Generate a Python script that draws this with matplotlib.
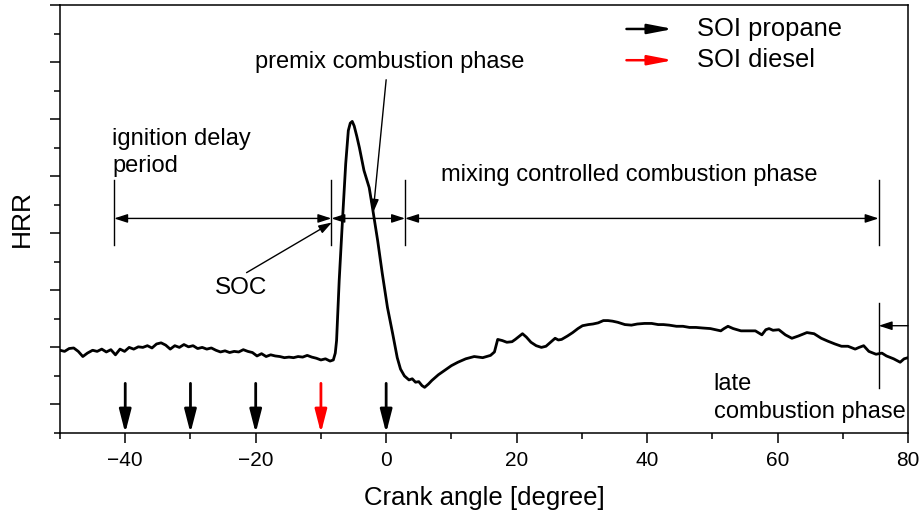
import matplotlib
matplotlib.use("Agg")
import matplotlib.pyplot as plt
from matplotlib.ticker import MultipleLocator, NullFormatter

plt.rcParams['font.family'] = ['Liberation Sans', 'DejaVu Sans']

# Heat release rate trace (arbitrary units) vs crank angle
crank_angle = [
    -50.0, -49.3, -48.6, -47.9, -47.2, -46.5, -45.8, -45.0, -44.3, -43.6,
    -42.9, -42.2, -41.5, -40.8, -40.1, -39.4, -38.7, -38.0, -37.3, -36.6,
    -35.9, -35.2, -34.5, -33.8, -33.1, -32.4, -31.7, -31.0, -30.3, -29.6,
    -28.9, -28.2, -27.5, -26.8, -26.1, -25.4, -24.7, -24.0, -23.3, -22.6,
    -21.9, -21.2, -20.5, -19.8, -19.1, -18.4, -17.7, -17.0, -16.3, -15.6,
    -14.9, -14.2, -13.5, -12.8, -12.1, -11.4, -10.7, -10.0, -9.3, -8.6,
    -8.1, -7.8, -7.6, -7.2, -6.7, -6.2, -5.8, -5.5, -5.2, -4.9,
    -4.5, -4.1, -3.4, -2.6, -2.1, -1.3, -0.6, 0.2, 1.0, 1.7,
    2.2, 2.8, 3.5, 4.0, 4.5, 5.0, 5.5, 5.9, 6.5, 7.0,
    8.0, 9.0, 10.0, 11.0, 12.2, 13.5, 14.8, 16.0, 16.6, 17.1,
    17.8, 18.5, 19.3, 19.8, 20.9, 21.5, 22.2, 23.0, 23.8, 24.5,
    25.3, 25.9, 26.4, 26.9, 27.8, 28.6, 29.4, 30.1, 31.0, 31.7,
    32.5, 33.3, 34.0, 34.7, 35.5, 36.6, 37.6, 38.5, 39.6, 40.7,
    41.7, 42.5, 43.4, 44.5, 45.5, 46.5, 47.5, 48.5, 49.7, 50.5,
    51.3, 51.8, 52.4, 53.2, 54.4, 55.5, 56.6, 57.6, 58.2, 58.7,
    59.3, 60.2, 61.2, 62.2, 63.2, 64.5, 65.6, 66.7, 67.7, 68.8,
    69.8, 70.8, 71.9, 72.5, 73.2, 74.0, 75.1, 76.0, 76.7, 77.8,
    78.8, 79.4, 80.0,
]
hrr = [
    0.95, 0.93, 0.98, 0.99, 0.93, 0.84, 0.90, 0.95, 0.93, 0.97,
    0.92, 0.96, 0.87, 0.97, 0.93, 1.00, 0.97, 1.01, 1.00, 1.03,
    0.99, 1.06, 1.08, 1.04, 0.97, 1.03, 1.00, 1.05, 1.01, 1.03,
    0.98, 1.00, 0.97, 0.99, 0.95, 0.92, 0.94, 0.91, 0.93, 0.92,
    0.96, 0.93, 0.91, 0.85, 0.89, 0.84, 0.87, 0.85, 0.84, 0.82,
    0.83, 0.82, 0.84, 0.83, 0.86, 0.83, 0.81, 0.78, 0.80, 0.76,
    0.78, 0.90, 1.12, 2.17, 3.22, 4.22, 4.80, 4.93, 4.96, 4.88,
    4.70, 4.50, 4.10, 3.80, 3.45, 2.87, 2.30, 1.70, 1.24, 0.82,
    0.62, 0.50, 0.43, 0.45, 0.39, 0.40, 0.33, 0.30, 0.36, 0.42,
    0.52, 0.60, 0.68, 0.74, 0.80, 0.84, 0.82, 0.86, 0.92, 1.14,
    1.12, 1.09, 1.10, 1.14, 1.24, 1.18, 1.09, 1.03, 1.00, 1.02,
    1.10, 1.16, 1.13, 1.14, 1.20, 1.26, 1.33, 1.38, 1.40, 1.41,
    1.43, 1.47, 1.47, 1.46, 1.44, 1.40, 1.39, 1.41, 1.42, 1.42,
    1.40, 1.40, 1.39, 1.37, 1.37, 1.35, 1.35, 1.34, 1.33, 1.31,
    1.29, 1.33, 1.37, 1.33, 1.29, 1.29, 1.29, 1.22, 1.31, 1.33,
    1.30, 1.31, 1.22, 1.16, 1.20, 1.26, 1.24, 1.16, 1.11, 1.06,
    1.02, 1.02, 0.97, 1.00, 1.03, 0.93, 0.88, 0.90, 0.85, 0.80,
    0.74, 0.80, 0.82,
]

# Start-of-injection timings
soi_propane = [-40, -30, -20, 0]
soi_diesel = [-10]

# Phase boundaries (crank angle) and bracket level
soc = -8.4
ignition_start = -41.7
premix_end = 2.9
mixing_end = 75.5
bracket_y = 3.26

x_ticks = [-40, -20, 0, 20, 40, 60, 80]

fig = plt.figure(figsize=(9.22, 5.14), dpi=100)
ax = fig.add_axes([60 / 922, 81 / 514, 848 / 922, 428 / 514])

ax.plot(crank_angle, hrr, color='black', lw=2.0, solid_joinstyle='round')

ax.set_xlim(-50, 80)
ax.set_ylim(-0.5, 7.0)
ax.set_xticks(x_ticks)
ax.set_xticklabels([f"\u2212{abs(t)}" if t < 0 else str(t) for t in x_ticks])
ax.xaxis.set_minor_locator(MultipleLocator(10))
ax.yaxis.set_major_locator(MultipleLocator(1))
ax.yaxis.set_minor_locator(MultipleLocator(0.5))
ax.yaxis.set_major_formatter(NullFormatter())
ax.tick_params(which='major', direction='out', length=7, width=1.1, labelsize=15, pad=6)
ax.tick_params(which='minor', direction='out', length=4.5, width=1.1)
for s in ax.spines.values():
    s.set_linewidth(1.1)

ax.set_xlabel("Crank angle [degree]", fontsize=18.5)
ax.xaxis.set_label_coords(0.5, -0.124)
ax.set_ylabel("HRR", fontsize=19)
ax.yaxis.set_label_coords(-0.031, 0.502)

# Phase bracket verticals
for xv in (ignition_start, soc, premix_end, mixing_end):
    ax.plot([xv, xv], [2.79, 3.93], color='black', lw=1.0)
ax.plot([mixing_end, mixing_end], [0.28, 1.77], color='black', lw=1.0)

head_small = "<|-|>,head_length=8,head_width=2.6"
one_small = "-|>,head_length=8,head_width=2.6"
kw = dict(shrinkA=0, shrinkB=0, lw=1.0, color='black', mutation_scale=1)


def bracket(x0, x1, y, style):
    ax.annotate("", xy=(x1, y), xytext=(x0, y),
                arrowprops=dict(arrowstyle=style, **kw))


bracket(ignition_start, soc, bracket_y, head_small)
bracket(soc, premix_end, bracket_y, head_small)
bracket(premix_end, mixing_end, bracket_y, head_small)
bracket(80, mixing_end, 1.38, one_small)

# Leader lines
ax.annotate("", xy=(-8.3, 3.19), xytext=(-21.4, 2.31),
            arrowprops=dict(arrowstyle=one_small, **kw))
ax.annotate("", xy=(-2.0, 3.36), xytext=(0.0, 5.69),
            arrowprops=dict(arrowstyle=one_small, **kw))

# SOI markers
soi_style = "-|>,head_length=14,head_width=3.6"
for xv in soi_propane:
    ax.annotate("", xy=(xv, -0.5), xytext=(xv, 0.37),
                arrowprops=dict(arrowstyle=soi_style, shrinkA=0, shrinkB=0,
                                lw=2.0, color='black', mutation_scale=1))
for xv in soi_diesel:
    ax.annotate("", xy=(xv, -0.5), xytext=(xv, 0.37),
                arrowprops=dict(arrowstyle=soi_style, shrinkA=0, shrinkB=0,
                                lw=2.0, color='#ff0000', mutation_scale=1))

# Key
key_style = "-|>,head_length=15,head_width=2.9"
for yk, col, lab in ((0.944, 'black', "SOI propane"), (0.871, '#ff0000', "SOI diesel")):
    ax.annotate("", xy=(0.723, yk), xytext=(0.668, yk), xycoords='axes fraction',
                arrowprops=dict(arrowstyle=key_style, shrinkA=0, shrinkB=0,
                                lw=1.8, color=col, mutation_scale=1))
    ax.text(0.751, yk, lab, transform=ax.transAxes, fontsize=18.4,
            va='center', ha='left')

# Phase labels
fs = 17
ax.text(-42.0, 4.54, "ignition delay", fontsize=fs, va='baseline', ha='left')
ax.text(-42.0, 4.07, "period", fontsize=fs, va='baseline', ha='left')
ax.text(0.6, 5.89, "premix combustion phase", fontsize=fs, va='baseline', ha='center')
ax.text(8.4, 3.92, "mixing controlled combustion phase", fontsize=fs,
        va='baseline', ha='left')
ax.text(-22.3, 1.94, "SOC", fontsize=17.5, va='baseline', ha='center')
ax.text(50.2, 0.245, "late", fontsize=fs, va='baseline', ha='left')
ax.text(50.2, -0.23, "combustion phase", fontsize=fs, va='baseline', ha='left')

fig.savefig("out.png", dpi=100)
